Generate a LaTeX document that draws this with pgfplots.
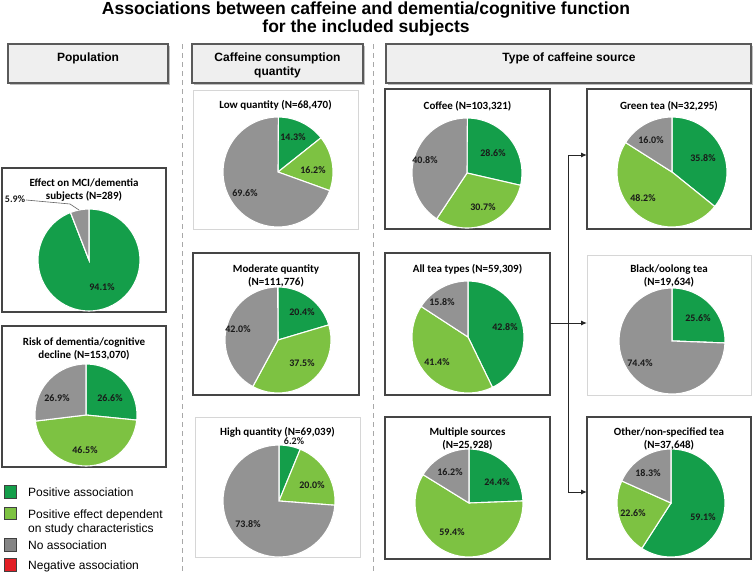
\documentclass[border=0pt]{standalone}
\usepackage{pgfplots}
\pgfplotsset{compat=1.18}
\usepackage{pgfplotstable}
\usepackage{fontspec}
\setmainfont{Liberation Sans}
\newfontfamily\calib{Carlito}
\usetikzlibrary{arrows.meta}

\definecolor{cpos}{HTML}{149E4A}
\definecolor{cdep}{HTML}{7DC242}
\definecolor{cno}{HTML}{939393}
\definecolor{cnoleg}{HTML}{858585}
\definecolor{cneg}{HTML}{E21F26}
\definecolor{boxdark}{HTML}{454545}
\definecolor{boxlight}{HTML}{D6D6D6}
\definecolor{hdrfill}{HTML}{EFEFEF}
\definecolor{hdrdraw}{HTML}{5A5A5A}
\definecolor{dashgray}{HTML}{A8A8A8}

% ---- data (percent of subjects): positive, dependent, no association ----
\pgfplotstableread{
cat pct
pos 94.1
dep 0
no 5.9
}\tMCI
\pgfplotstableread{
cat pct
pos 26.6
dep 46.5
no 26.9
}\tRisk
\pgfplotstableread{
cat pct
pos 14.3
dep 16.2
no 69.6
}\tLow
\pgfplotstableread{
cat pct
pos 20.4
dep 37.5
no 42.0
}\tMod
\pgfplotstableread{
cat pct
pos 6.2
dep 20.0
no 73.8
}\tHigh
\pgfplotstableread{
cat pct
pos 28.6
dep 30.7
no 40.8
}\tCoffee
\pgfplotstableread{
cat pct
pos 42.8
dep 41.4
no 15.8
}\tTea
\pgfplotstableread{
cat pct
pos 24.4
dep 59.4
no 16.2
}\tMulti
\pgfplotstableread{
cat pct
pos 35.8
dep 48.2
no 16.0
}\tGreen
\pgfplotstableread{
cat pct
pos 25.6
dep 0
no 74.4
}\tBlack
\pgfplotstableread{
cat pct
pos 59.1
dep 22.6
no 18.3
}\tOther

\newcommand\piechart[4]{%
  \pgfplotstablegetelem{0}{pct}\of{#1}\pgfmathsetmacro\pA{\pgfplotsretval}%
  \pgfplotstablegetelem{1}{pct}\of{#1}\pgfmathsetmacro\pB{\pgfplotsretval}%
  \pgfplotstablegetelem{2}{pct}\of{#1}\pgfmathsetmacro\pC{\pgfplotsretval}%
  \pgfmathsetmacro\aB{90-3.6*\pA}%
  \pgfmathsetmacro\aC{\aB-3.6*\pB}%
  \pgfmathsetmacro\aD{\aC-3.6*\pC}%
  \pgfmathsetmacro\dd{2*#4}%
  \begin{axis}[at={(#2pt,-#3pt)}, anchor=center, scale only axis, width=\dd pt, height=\dd pt,
     xmin=-1, xmax=1, ymin=-1, ymax=1, hide axis, clip=false]
    \filldraw[fill=cpos, draw=white, line width=1.1pt] (axis cs:0,0) -- ++(90:#4pt) arc[start angle=90, end angle=\aB, radius=#4pt] -- cycle;
    \filldraw[fill=cdep, draw=white, line width=1.1pt] (axis cs:0,0) -- ++(\aB:#4pt) arc[start angle=\aB, end angle=\aC, radius=#4pt] -- cycle;
    \filldraw[fill=cno, draw=white, line width=1.1pt] (axis cs:0,0) -- ++(\aC:#4pt) arc[start angle=\aC, end angle=\aD, radius=#4pt] -- cycle;
  \end{axis}}

\newcommand\ptitle[3]{\node[font=\calib\bfseries\fontsize{11}{13.5}\selectfont, align=center, inner sep=0pt] at (#1,#2) {#3};}
\newcommand\plabel[3]{\node[font=\calib\bfseries\fontsize{10}{12}\selectfont, text=black!90, inner sep=0pt] at (#1,#2) {#3};}
\newcommand\darkbox[4]{\draw[draw=boxdark, line width=1.5pt, fill=white] (#1,#2) rectangle (#3,#4);}
\newcommand\lightbox[4]{\draw[draw=boxlight, line width=1pt, fill=white] (#1,#2) rectangle (#3,#4);}

\begin{document}
\begin{tikzpicture}[x=1pt,y=-1pt]
\path[use as bounding box] (0,0) rectangle (753,574);

% main title
\node[anchor=base, inner sep=0pt, font=\bfseries\fontsize{17.5}{20}\selectfont] at (366,14.5) {Associations between caffeine and dementia/cognitive function};
\node[anchor=base, inner sep=0pt, font=\bfseries\fontsize{17.5}{20}\selectfont] at (366,32.5) {for the included subjects};

% dashed separators
\draw[dashgray, line width=1pt, dash pattern=on 5pt off 4pt] (182,44) -- (182,572);
\draw[dashgray, line width=1pt, dash pattern=on 5pt off 4pt] (373,44) -- (373,572);

% header boxes (with a faint shadow)
\fill[black!25] (9.5,45.5) rectangle (169.5,84.5);
\fill[black!25] (193.5,45.5) rectangle (364.5,84.5);
\fill[black!25] (387.5,45.5) rectangle (752.5,84.5);
\draw[fill=hdrfill, draw=hdrdraw, line width=1.3pt] (8,44) rectangle (168,83);
\draw[fill=hdrfill, draw=hdrdraw, line width=1.3pt] (192,44) rectangle (363,83);
\draw[fill=hdrfill, draw=hdrdraw, line width=1.3pt] (386,44) rectangle (751,83);
\node[anchor=base, inner sep=0pt, font=\bfseries\fontsize{12}{14}\selectfont] at (88,61) {Population};
\node[anchor=base, inner sep=0pt, font=\bfseries\fontsize{12}{14}\selectfont] at (277.5,61) {Caffeine consumption};
\node[anchor=base, inner sep=0pt, font=\bfseries\fontsize{12}{14}\selectfont] at (277.5,75) {quantity};
\node[anchor=base, inner sep=0pt, font=\bfseries\fontsize{12}{14}\selectfont] at (569,61) {Type of caffeine source};

% pie boxes
\darkbox{2}{168}{166}{312}
\darkbox{2}{326}{166}{467}
\lightbox{193}{90}{358}{229}
\darkbox{193}{253}{359}{395}
\lightbox{195}{417}{360}{557}
\darkbox{385}{89}{550}{229}
\darkbox{385}{253}{550}{395}
\darkbox{385}{417}{550}{559}
\darkbox{587}{89}{751}{229}
\lightbox{587}{255}{751}{395}
\darkbox{587}{417}{751}{559}

% arrows
\draw[black!85, line width=1pt] (568,155) -- (568,492);
\draw[black!85, line width=1pt] (550,323) -- (568,323);
\draw[black!85, line width=1pt, -{Latex[length=6pt,width=5pt]}] (568,155) -- (587,155);
\draw[black!85, line width=1pt, -{Latex[length=6pt,width=5pt]}] (568,323) -- (587,323);
\draw[black!85, line width=1pt, -{Latex[length=6pt,width=5pt]}] (568,492) -- (587,492);

% pies
\piechart{\tMCI}{89}{260}{51}
\piechart{\tRisk}{86}{415}{51}
\piechart{\tLow}{278}{172}{55}
\piechart{\tMod}{278}{340}{53}
\piechart{\tHigh}{279}{501}{56}
\piechart{\tCoffee}{467}{173}{55}
\piechart{\tTea}{468}{337}{56}
\piechart{\tMulti}{469}{503}{54}
\piechart{\tGreen}{672}{172}{55}
\piechart{\tBlack}{672}{341}{53}
\piechart{\tOther}{671}{503}{54}

% pie titles
\ptitle{84}{190}{Effect on MCI/dementia\\subjects (N=289)}
\ptitle{84}{349}{Risk of dementia/cognitive\\decline (N=153,070)}
\ptitle{275.5}{105}{Low quantity (N=68,470)}
\ptitle{276}{276}{Moderate quantity\\(N=111,776)}
\ptitle{277.5}{432}{High quantity (N=69,039)}
\ptitle{467.5}{106}{Coffee (N=103,321)}
\ptitle{467.5}{269}{All tea types (N=59,309)}
\ptitle{467.5}{439}{Multiple sources\\(N=25,928)}
\ptitle{669}{106}{Green tea (N=32,295)}
\ptitle{669}{276}{Black/oolong tea\\(N=19,634)}
\ptitle{669}{439}{Other/non-specified tea\\(N=37,648)}

% pie labels
\plabel{102}{287}{94.1\%}
\plabel{15}{199}{5.9\%}
\draw[black!60, line width=0.6pt] (26,200) -- (70,204) -- (79,210);
\plabel{110}{398}{26.6\%}
\plabel{85}{450}{46.5\%}
\plabel{57}{398}{26.9\%}
\plabel{293}{137}{14.3\%}
\plabel{313}{170}{16.2\%}
\plabel{245}{193}{69.6\%}
\plabel{302}{312}{20.4\%}
\plabel{302}{363}{37.5\%}
\plabel{238}{329}{42.0\%}
\plabel{294}{441}{6.2\%}
\plabel{312}{485}{20.0\%}
\plabel{248}{524}{73.8\%}
\plabel{493}{153}{28.6\%}
\plabel{483}{207}{30.7\%}
\plabel{425}{160}{40.8\%}
\plabel{505}{327}{42.8\%}
\plabel{437}{362}{41.4\%}
\plabel{442}{302}{15.8\%}
\plabel{497}{482}{24.4\%}
\plabel{452}{532}{59.4\%}
\plabel{450}{472}{16.2\%}
\plabel{703}{158}{35.8\%}
\plabel{643}{198}{48.2\%}
\plabel{651}{140}{16.0\%}
\plabel{698}{318}{25.6\%}
\plabel{640}{363}{74.4\%}
\plabel{703}{517}{59.1\%}
\plabel{633}{513}{22.6\%}
\plabel{648}{473}{18.3\%}

% legend
\draw[fill=cpos, draw=black!75, line width=0.8pt] (4,485.5) rectangle (16,498);
\draw[fill=cdep, draw=black!75, line width=0.8pt] (4,507) rectangle (16,519.5);
\draw[fill=cnoleg, draw=black!75, line width=0.8pt] (4,538.5) rectangle (16,551);
\draw[fill=cneg, draw=black!75, line width=0.8pt] (4,558.5) rectangle (16,571);
\node[anchor=base west, inner sep=0pt, font=\fontsize{12}{14}\selectfont] at (28,496) {Positive association};
\node[anchor=base west, inner sep=0pt, font=\fontsize{12}{14}\selectfont] at (28,518) {Positive effect dependent};
\node[anchor=base west, inner sep=0pt, font=\fontsize{12}{14}\selectfont] at (28,532) {on study characteristics};
\node[anchor=base west, inner sep=0pt, font=\fontsize{12}{14}\selectfont] at (28,549) {No association};
\node[anchor=base west, inner sep=0pt, font=\fontsize{12}{14}\selectfont] at (28,569) {Negative association};
\end{tikzpicture}
\end{document}
